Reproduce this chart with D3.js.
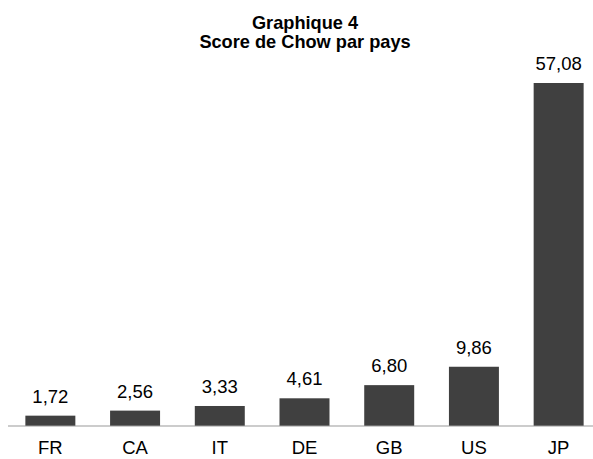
<!DOCTYPE html>
<html>
<head>
<meta charset="utf-8">
<script src="https://cdn.jsdelivr.net/npm/d3@7"></script>
<style>
  html, body { margin: 0; padding: 0; background: #fff; }
  svg { display: block; font-family: "Liberation Sans", Arial, sans-serif; }
</style>
</head>
<body>
<svg id="chart" width="593" height="459"></svg>
<script>
const titleLines = ["Graphique 4", "Score de Chow par pays"];
const categories = ["FR", "CA", "IT", "DE", "GB", "US", "JP"];
const values = [1.72, 2.56, 3.33, 4.61, 6.80, 9.86, 57.08];

const svg = d3.select("#chart");
const baseY = 426;

const x = d3.scaleBand().domain(categories).range([8, 601]).paddingInner(0.41).paddingOuter(0.205);
const y = d3.scaleLinear().domain([0, 57.08]).range([baseY, 83]);

const fmt = v => d3.format(".2f")(v).replace(".", ",");

svg.append("g").selectAll("text").data(titleLines).join("text")
  .attr("x", 305).attr("y", (d, i) => 29 + i * 19)
  .attr("text-anchor", "middle")
  .attr("font-weight", "bold").attr("font-size", "18.2px").attr("fill", "#000")
  .text(d => d);

svg.append("g").selectAll("rect").data(values).join("rect")
  .attr("x", (d, i) => x(categories[i]))
  .attr("width", x.bandwidth())
  .attr("y", d => y(d))
  .attr("height", d => baseY - y(d))
  .attr("fill", "#404040");

svg.append("g").selectAll("text").data(values).join("text")
  .attr("x", (d, i) => x(categories[i]) + x.bandwidth() / 2)
  .attr("y", d => y(d) - 13)
  .attr("text-anchor", "middle")
  .attr("font-size", "18.5px").attr("fill", "#000")
  .text(d => fmt(d));

const axis = d3.axisBottom(x).tickSize(0).tickPadding(16);
const gx = svg.append("g").attr("transform", `translate(0,${baseY})`).call(axis);
gx.select(".domain").attr("stroke", "#999").attr("stroke-width", 1.2).attr("d", "M8,0H601");
gx.selectAll("text").attr("font-size", "18.5px").attr("fill", "#000")
  .attr("font-family", "Liberation Sans, Arial, sans-serif").attr("dy", "0").attr("y", 28);
</script>
</body>
</html>
